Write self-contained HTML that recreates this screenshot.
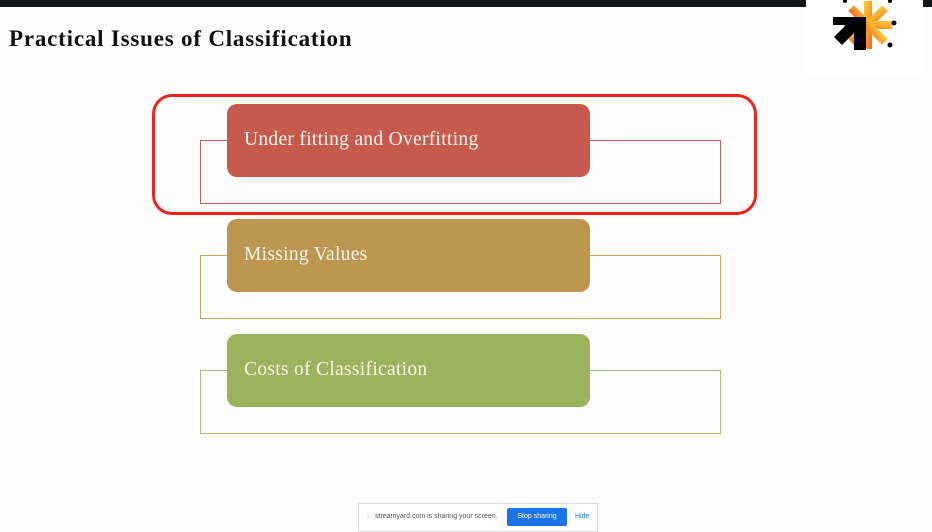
<!DOCTYPE html>
<html><head><style>
body{margin:0;width:932px;height:530px;background:#fdfdfe;position:relative;overflow:hidden;font-family:"Liberation Serif",serif}
.top{position:absolute;left:0;top:0;width:932px;height:7px;background:#141518}
.logo{position:absolute;left:806px;top:0;width:117px;height:76px;background:#fff}
.title{position:absolute;left:9px;top:26px;font-weight:bold;font-size:23px;letter-spacing:0.8px;color:#111}
.ol{position:absolute;left:200px;width:519px;height:62px;border:1.5px solid}
.bx{position:absolute;left:227px;width:363px;height:73px;border-radius:10px;color:#fdf6ee;font-size:19.5px;letter-spacing:0.3px;box-sizing:border-box;padding:25px 0 0 17px}
.red{position:absolute;left:152px;top:94px;width:599px;height:115px;border:3px solid #f0231b;border-radius:20px}
.bar{position:absolute;left:358px;top:503px;width:238px;height:27px;background:#fff;border:1px solid #ddd;font-family:"Liberation Sans",sans-serif;font-size:7px;color:#555}
</style></head><body>
<div class="top"></div>
<div class="logo"><svg width="117" height="76" viewBox="0 0 117 76">
<defs><linearGradient id="g" x1="0" y1="0" x2="1" y2="1"><stop offset="0" stop-color="#ffcf3a"/><stop offset="1" stop-color="#f26a1b"/></linearGradient></defs>
<g transform="translate(62,25)" fill="url(#g)">
<rect x="-4" y="-24" width="8" height="48" transform="rotate(0)"/>
<rect x="-4" y="-24" width="8" height="48" transform="rotate(45)"/>
<rect x="-4" y="-24" width="8" height="48" transform="rotate(90)"/>
<rect x="-4" y="-24" width="8" height="48" transform="rotate(135)"/></g>
<path d="M27 17 H60 V50 H48 V33 L36 45 L28 37 L40 25 H27Z" fill="#000"/>
<circle cx="88" cy="23" r="2.5" fill="#000"/><circle cx="84" cy="45" r="2.5" fill="#000"/><circle cx="39" cy="1" r="2" fill="#000"/><circle cx="84" cy="1" r="2" fill="#000"/>
</svg></div>
<div class="title">Practical Issues of Classification</div>

<div class="ol" style="top:140px;border-color:#c5645a"></div>
<div class="bx" style="top:104px;background:#c55a4d">Under fitting and Overfitting</div>
<div class="ol" style="top:255px;border-color:#c9a25e"></div>
<div class="bx" style="top:219px;background:#bd974f">Missing Values</div>
<div class="ol" style="top:370px;border-color:#a6c27a"></div>
<div class="bx" style="top:334px;background:#9bb35c">Costs of Classification</div>
<div class="red"></div>

<div class="bar"><span style="position:absolute;left:8px;top:9px;color:#bbb">⁞</span><span style="position:absolute;left:16px;top:9px">streamyard.com is sharing your screen.</span>
<span style="position:absolute;left:148px;top:4px;width:60px;height:18px;background:#1a73e8;color:#fff;border-radius:2px;text-align:center;line-height:18px">Stop sharing</span>
<span style="position:absolute;left:216px;top:9px;color:#1a73e8">Hide</span></div>
</body></html>
